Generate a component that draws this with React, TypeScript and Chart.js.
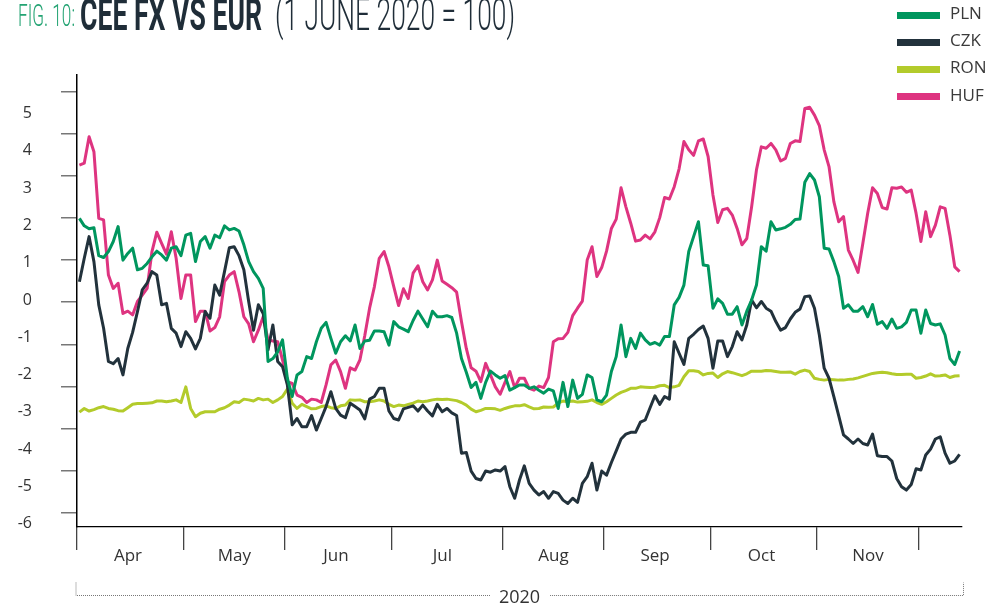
import React, { useEffect, useRef } from 'react';
import { Chart, registerables } from 'chart.js';

Chart.register(...registerables);

// ---------- data (index = business day from 1 Apr 2020) ----------
const SERIES_NAMES = ['PLN', 'CZK', 'RON', 'HUF'];
const SERIES_COLORS = ['#00965e', '#22323c', '#b3cb2b', '#de3480'];
const MONTH_LABELS = ['Apr', 'May', 'Jun', 'Jul', 'Aug', 'Sep', 'Oct', 'Nov', ''];
const MONTH_START_INDEX = [0, 22, 43, 65, 88, 109, 131, 153, 174];
const Y_TICK_LABELS = [-6, -5, -4, -3, -2, -1, 0, 1, 2, 3, 4, 5];
const Y_MARKS = [0, 1, 2, 3, 4, 5, 6, 7, 8, 9, 10];
const X_TITLE = '2020';

const PLN = [
  2.19, 1.99, 1.91, 1.94, 1.19, 1.14, 1.30, 1.57, 1.97, 1.07,
  1.25, 1.39, 0.81, 0.85, 0.98, 1.16, 1.31, 1.21, 1.07, 1.39,
  1.43, 1.19, 1.74, 1.79, 1.03, 1.57, 1.70, 1.39, 1.74, 1.67,
  1.99, 1.88, 1.92, 1.85, 1.48, 1.03, 0.76, 0.58, 0.31, -1.65,
  -1.57, -1.39, -1.07, -2.10, -2.59, -2.01, -1.92, -1.52, -1.57, -1.12,
  -0.76, -0.60, -1.03, -1.43, -1.12, -0.96, -1.10, -0.67, -1.30, -1.10,
  -1.08, -0.83, -0.83, -0.85, -1.21, -0.58, -0.72, -0.78, -0.85, -0.55,
  -0.30, -0.51, -0.72, -0.30, -0.45, -0.45, -0.42, -0.47, -0.89, -1.57,
  -1.94, -2.35, -2.21, -2.64, -2.21, -1.91, -2.01, -2.10, -2.03, -2.42,
  -2.35, -2.28, -2.28, -2.37, -2.33, -2.42, -2.50, -2.39, -2.44, -2.91,
  -2.21, -2.86, -2.15, -2.64, -2.53, -2.01, -2.08, -2.68, -2.73, -2.55,
  -1.92, -1.52, -0.67, -1.52, -1.03, -1.30, -0.89, -1.07, -1.19, -1.14,
  -1.21, -0.98, -0.98, -0.13, 0.07, 0.40, 1.30, 1.70, 2.10, 0.94,
  0.92, -0.22, 0.03, -0.09, -0.38, -0.38, -0.18, -0.67, -0.30, 0.00,
  0.40, 1.43, 1.31, 2.10, 1.88, 1.91, 1.95, 2.03, 2.16, 2.17,
  3.16, 3.39, 3.22, 2.77, 1.39, 1.37, 1.03, 0.63, -0.22, -0.13,
  -0.30, -0.30, -0.18, -0.45, -0.12, -0.65, -0.58, -0.76, -0.51, -0.76,
  -0.72, -0.60, -0.27, -0.27, -0.89, -0.27, -0.63, -0.67, -0.64, -0.94,
  -1.57, -1.73, -1.37,
];

const CZK = [
  0.49, 1.12, 1.70, 1.03, -0.13, -0.76, -1.65, -1.71, -1.57, -2.01,
  -1.30, -0.87, -0.31, 0.27, 0.45, 0.76, 0.67, -0.13, -0.09, -0.76,
  -0.89, -1.25, -0.85, -1.03, -1.31, -1.03, -0.31, -0.49, 0.40, 0.13,
  0.76, 1.40, 1.43, 1.19, 0.81, -0.04, -0.81, -0.13, -0.36, -1.34,
  -0.67, -1.65, -1.79, -2.28, -3.35, -3.18, -3.40, -3.40, -3.10, -3.49,
  -3.18, -2.86, -2.46, -2.91, -3.09, -3.16, -2.77, -2.86, -2.95, -3.19,
  -2.66, -2.59, -2.37, -2.37, -2.98, -3.18, -3.22, -2.92, -2.88, -2.84,
  -2.98, -2.82, -2.98, -3.11, -2.80, -3.00, -2.91, -3.03, -3.10, -4.11,
  -4.09, -4.59, -4.79, -4.83, -4.59, -4.62, -4.56, -4.59, -4.47, -5.01,
  -5.32, -4.83, -4.45, -4.92, -5.10, -5.23, -5.14, -5.32, -5.14, -5.19,
  -5.37, -5.46, -5.32, -5.43, -4.92, -4.74, -4.38, -5.10, -4.59, -4.70,
  -4.36, -4.05, -3.73, -3.60, -3.55, -3.55, -3.28, -3.22, -2.89, -2.57,
  -2.80, -2.59, -2.66, -1.12, -1.43, -1.73, -1.03, -0.92, -0.79, -0.70,
  -1.03, -1.83, -1.10, -1.10, -1.52, -1.25, -0.85, -1.07, -0.67, 0.00,
  -0.21, -0.04, -0.22, -0.30, -0.58, -0.81, -0.74, -0.51, -0.33, -0.24,
  0.09, 0.11, -0.22, -0.94, -1.83, -2.10, -2.59, -3.10, -3.62, -3.73,
  -3.85, -3.73, -3.85, -3.89, -3.60, -4.18, -4.20, -4.20, -4.32, -4.79,
  -5.01, -5.10, -4.95, -4.53, -4.56, -4.16, -4.00, -3.73, -3.67, -4.11,
  -4.38, -4.32, -4.14,
];

const RON = [
  -3.01, -2.91, -2.98, -2.94, -2.89, -2.86, -2.91, -2.93, -2.97, -2.98,
  -2.89, -2.80, -2.78, -2.78, -2.77, -2.76, -2.71, -2.71, -2.73, -2.71,
  -2.68, -2.75, -2.33, -2.91, -3.13, -3.04, -3.00, -3.00, -3.00, -2.93,
  -2.89, -2.82, -2.73, -2.75, -2.66, -2.68, -2.71, -2.64, -2.68, -2.66,
  -2.75, -2.68, -2.59, -2.39, -2.77, -2.91, -2.80, -2.86, -2.92, -2.91,
  -2.86, -2.84, -2.89, -2.91, -2.84, -2.82, -2.68, -2.69, -2.68, -2.73,
  -2.73, -2.71, -2.68, -2.71, -2.80, -2.86, -2.82, -2.84, -2.80, -2.77,
  -2.71, -2.73, -2.71, -2.68, -2.66, -2.67, -2.66, -2.68, -2.70, -2.75,
  -2.82, -2.93, -3.00, -2.96, -2.91, -2.91, -2.92, -2.96, -2.91, -2.87,
  -2.84, -2.84, -2.81, -2.87, -2.92, -2.91, -2.87, -2.88, -2.87, -2.77,
  -2.71, -2.73, -2.71, -2.74, -2.73, -2.72, -2.68, -2.75, -2.80, -2.73,
  -2.64, -2.55, -2.48, -2.43, -2.37, -2.37, -2.33, -2.34, -2.35, -2.34,
  -2.30, -2.29, -2.35, -2.33, -2.29, -2.06, -1.90, -1.90, -1.92, -2.01,
  -1.97, -1.96, -2.08, -1.98, -1.92, -1.95, -1.99, -2.03, -1.98, -1.91,
  -1.91, -1.91, -1.89, -1.90, -1.92, -1.94, -1.94, -1.93, -1.99, -1.92,
  -1.88, -1.92, -2.10, -2.13, -2.15, -2.13, -2.14, -2.15, -2.15, -2.13,
  -2.12, -2.09, -2.05, -2.01, -1.97, -1.95, -1.94, -1.95, -1.98, -2.00,
  -2.00, -1.99, -1.99, -2.10, -2.08, -2.04, -1.98, -2.04, -2.03, -2.01,
  -2.08, -2.04, -2.03,
];

const HUF = [
  3.62, 3.67, 4.38, 3.98, 2.19, 2.15, 0.67, 0.31, 0.45, -0.36,
  -0.30, -0.40, -0.04, 0.13, 0.31, 1.30, 1.82, 1.52, 1.23, 1.83,
  1.12, 0.04, 0.67, 0.67, -0.58, -0.30, -0.30, -0.83, -0.74, -0.45,
  0.49, 0.67, 0.76, 0.22, -0.45, -0.64, -1.12, -0.81, -0.45, -1.07,
  -1.10, -1.12, -1.61, -2.19, -2.24, -2.55, -2.61, -2.75, -2.66, -2.68,
  -2.75, -2.28, -1.74, -1.61, -1.92, -2.37, -1.82, -1.88, -1.61, -0.96,
  -0.22, 0.36, 1.12, 1.30, 0.89, 0.36, -0.15, 0.30, 0.04, 0.72,
  0.92, 0.49, 0.27, 0.54, 1.07, 0.51, 0.42, 0.33, 0.21, -0.58,
  -1.30, -1.82, -1.91, -2.19, -1.70, -2.01, -2.33, -2.53, -2.21, -1.92,
  -2.35, -2.10, -2.10, -2.37, -2.42, -2.31, -2.35, -2.08, -1.12, -1.04,
  -1.03, -0.87, -0.42, -0.22, -0.03, 1.07, 1.43, 0.63, 0.87, 1.31,
  1.92, 2.17, 3.01, 2.50, 2.06, 1.58, 1.61, 1.74, 1.64, 1.83,
  2.21, 2.75, 2.71, 3.04, 3.52, 4.25, 4.03, 3.88, 4.27, 4.32,
  3.85, 2.82, 2.08, 2.42, 2.46, 2.28, 1.92, 1.48, 1.65, 2.50,
  3.49, 4.11, 4.07, 4.20, 4.03, 3.73, 3.80, 4.20, 4.27, 4.25,
  5.14, 5.17, 4.96, 4.68, 4.03, 3.58, 2.64, 2.10, 2.24, 1.34,
  1.06, 0.74, 1.52, 2.33, 3.01, 2.86, 2.48, 2.44, 3.01, 3.00,
  3.03, 2.89, 2.95, 2.33, 1.57, 2.37, 1.70, 2.01, 2.50, 2.46,
  1.74, 0.89, 0.76,
];

const SERIES_VALUES = [PLN, CZK, RON, HUF];

const TITLE_PARTS = [
  { text: 'FIG. 10:', left: 18, width: 57, top: -0.5, size: 31, weight: 300, color: '#23a373' },
  { text: 'CEE FX VS EUR', left: 80, width: 182, top: -7.5, size: 44, weight: 700, color: '#1f2d38' },
  { text: '(1 JUNE 2020 = 100)', left: 275, width: 240, top: -7.5, size: 44, weight: 300, color: '#1f2d38' },
];

const AXIS_FONT = 'Open Sans';

const yearBracket = {
  id: 'yearBracket',
  afterDraw(chart: any) {
    const { ctx, chartArea } = chart;
    const y = 595.5;
    ctx.save();
    ctx.font = `18px "${AXIS_FONT}"`;
    const w = ctx.measureText(X_TITLE).width;
    const cx = (chartArea.left + chartArea.right) / 2;
    const left = chartArea.left - 1;
    const right = chartArea.right + 1.5;
    ctx.strokeStyle = '#777';
    ctx.lineWidth = 1;
    ctx.setLineDash([1, 1]);
    ctx.beginPath();
    ctx.moveTo(left, y - 13);
    ctx.lineTo(left, y);
    ctx.lineTo(cx - w / 2 - 8, y);
    ctx.moveTo(cx + w / 2 + 10, y);
    ctx.lineTo(right, y);
    ctx.lineTo(right, y - 13);
    ctx.stroke();
    ctx.restore();
  },
};

export default function App() {
  const canvasRef = useRef<HTMLCanvasElement | null>(null);
  const titleRefs = useRef<(HTMLSpanElement | null)[]>([]);

  useEffect(() => {
    document.body.style.margin = '0';
    const canvas = canvasRef.current;
    if (!canvas) return;
    const n = PLN.length;
    const datasets = SERIES_VALUES.map((arr, k) => ({
      label: SERIES_NAMES[k],
      data: arr.map((v, i) => ({ x: i, y: v })),
      borderColor: SERIES_COLORS[k],
      backgroundColor: SERIES_COLORS[k],
      borderWidth: 3,
      pointRadius: 0,
      pointHoverRadius: 0,
      tension: 0,
      borderJoinStyle: 'round' as const,
      fill: false,
    }));

    const chart = new Chart(canvas, {
      type: 'line',
      data: { datasets },
      plugins: [yearBracket],
      options: {
        animation: false,
        responsive: false,
        devicePixelRatio: 1,
        layout: { padding: { top: 75, right: 36, left: 0, bottom: 0 } },
        plugins: {
          legend: { display: false },
          tooltip: { enabled: false },
          title: { display: false },
        },
        scales: {
          x: {
            type: 'linear',
            position: 'bottom',
            min: -0.5,
            max: n - 0.5,
            afterBuildTicks: (s: any) => {
              s.ticks = MONTH_START_INDEX.map((v) => ({ value: v - 0.5 }));
            },
            ticks: {
              autoSkip: false,
              maxRotation: 0,
              minRotation: 0,
              labelOffset: 51,
              padding: -4,
              color: '#333',
              font: { family: AXIS_FONT, size: 17 },
              callback: (_v: any, index: number) => MONTH_LABELS[index],
            },
            grid: { drawOnChartArea: false, drawTicks: true, tickLength: 23, color: '#444', lineWidth: 1.3 },
            border: { display: true, color: '#000', width: 1.3 },
            title: {
              display: true,
              text: X_TITLE,
              color: '#333',
              font: { family: AXIS_FONT, size: 18 },
              padding: { top: 0, bottom: -3 },
            },
            afterFit: (s: any) => {
              s.height = 79;
            },
          },
          y: {
            type: 'linear',
            position: 'left',
            weight: 1,
            min: -6.091,
            max: 6.037,
            afterBuildTicks: (s: any) => {
              s.ticks = Y_TICK_LABELS.map((v) => ({ value: v }));
            },
            ticks: {
              padding: 29,
              color: '#333',
              font: { family: AXIS_FONT, size: 16 },
              callback: (v: any) => String(v),
            },
            grid: { display: false, drawTicks: false },
            border: { display: false },
            afterFit: (s: any) => {
              s.width = 61;
            },
          },
          yt: {
            type: 'linear',
            position: 'left',
            weight: 0,
            min: -0.34,
            max: 10.397,
            afterBuildTicks: (s: any) => {
              s.ticks = Y_MARKS.map((v) => ({ value: v }));
            },
            ticks: { display: false },
            grid: { drawOnChartArea: false, drawTicks: true, tickLength: 16, color: '#777', lineWidth: 1.5 },
            border: { display: true, color: '#000', width: 1.5 },
            afterFit: (s: any) => {
              s.width = 16;
            },
          },
        },
      } as any,
    });

    return () => {
      chart.destroy();
    };
  }, []);

  useEffect(() => {
    const fit = () => {
      titleRefs.current.forEach((el, k) => {
        if (!el) return;
        el.style.transform = 'none';
        const w = el.getBoundingClientRect().width;
        if (w > 0) el.style.transform = `scaleX(${TITLE_PARTS[k].width / w})`;
      });
    };
    fit();
    if ((document as any).fonts && (document as any).fonts.ready) {
      (document as any).fonts.ready.then(fit);
    }
  }, []);

  return (
    <div style={{ position: 'relative', width: 998, height: 606, overflow: 'hidden', background: '#fff' }}>
      <canvas ref={canvasRef} width={998} height={606} style={{ display: 'block', width: 998, height: 606 }} />
      {TITLE_PARTS.map((p, k) => (
        <span
          key={p.text}
          ref={(el) => {
            titleRefs.current[k] = el;
          }}
          style={{
            position: 'absolute',
            left: p.left,
            top: p.top,
            fontFamily: 'Roboto, sans-serif',
            fontSize: p.size,
            lineHeight: `${p.size}px`,
            fontWeight: p.weight,
            color: p.color,
            whiteSpace: 'nowrap',
            transformOrigin: '0 0',
            display: 'inline-block',
          }}
        >
          {p.text}
        </span>
      ))}
      {SERIES_NAMES.map((name, k) => (
        <div key={name} style={{ position: 'absolute', left: 897, top: 12 + k * 27.1, height: 20 }}>
          <div
            style={{
              position: 'absolute',
              left: 0,
              top: 0,
              width: 43,
              height: 7,
              background: SERIES_COLORS[k],
            }}
          />
          <div
            style={{
              position: 'absolute',
              left: 53,
              top: -8.8,
              fontFamily: `"${AXIS_FONT}", sans-serif`,
              fontSize: 17,
              lineHeight: '20px',
              color: '#3a3a3a',
              whiteSpace: 'nowrap',
            }}
          >
            {name}
          </div>
        </div>
      ))}
    </div>
  );
}
